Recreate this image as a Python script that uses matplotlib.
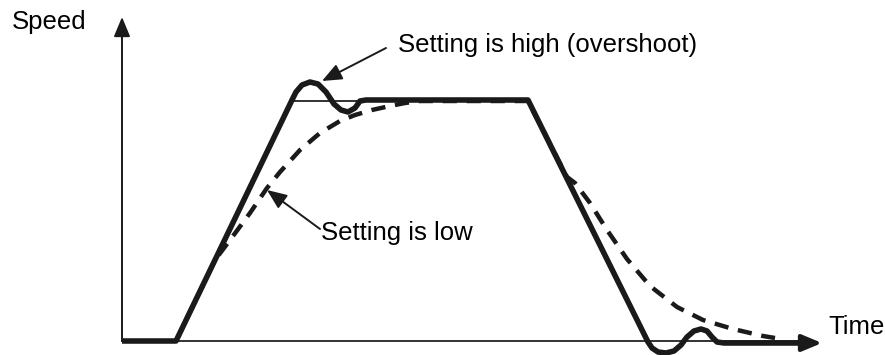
#
# Speed response sketch: gain setting high (overshoot) vs low
#

import matplotlib
matplotlib.use('Agg')
import matplotlib.pyplot as plt

plt.rcParams['font.family'] = ['Liberation Sans', 'DejaVu Sans']

# axes (pixel-like coordinates, y grows downward)
axisOrigin = [122, 341]
axisXEnd = 822
axisYEnd = 17

# speed with a high setting (solid) -- ramp up, overshoot, flat, ramp down, undershoot
highX = [122, 176, 292, 296, 302, 310, 318, 326, 334, 341, 348, 355, 360, 366, 528,
         648, 652, 658, 666, 674, 681, 687, 694, 701, 707, 712, 717, 724, 812]
highY = [341, 341, 100, 92, 85, 82, 84, 92, 104, 110, 112, 108, 101, 100, 100,
         342, 348, 352, 353, 351, 345, 337, 331, 329, 331, 337, 342, 343, 343]

# thin reference line of the target speed
refX = [292, 366]
refY = [101, 101]

# speed with a low setting (dashed)
lowX = [176, 215, 233, 250, 267, 280, 300, 320, 340, 355, 372, 390, 405, 420, 528,
        567, 575, 590, 607, 627, 650, 677, 703, 733, 763, 775]
lowY = [341, 260, 236, 213, 188, 172, 150, 133, 121, 115, 110, 106, 103, 101, 101,
        177, 183, 203, 230, 259, 286, 307, 320, 329, 336, 338]


### figure
fig = plt.figure(figsize=[8.85, 3.55], dpi=100, facecolor='w')
ax = fig.add_axes([0, 0, 1, 1])
ax.set_xlim(0, 885)
ax.set_ylim(355, 0)
ax.axis('off')

arrowHead = '-|>,head_length=1.2,head_width=0.5'

# axis lines with arrow heads
ax.plot([axisOrigin[0], axisXEnd - 10], [axisOrigin[1], axisOrigin[1]], '-', color='#333333', linewidth=1.4)
ax.annotate('', xy=(axisOrigin[0], axisYEnd), xytext=(axisOrigin[0], axisOrigin[1]),
            arrowprops=dict(arrowstyle=arrowHead, color='#1a1a1a',
                            linewidth=1.4, shrinkA=0, shrinkB=0))

# curves
ax.plot(refX, refY, '-', color='#222222', linewidth=1.3)
ax.plot(lowX, lowY, '--', color='#1a1a1a', linewidth=3.2, dashes=(3.2, 2.2))
ax.plot(highX, highY, '-', color='#1a1a1a', linewidth=4.0, solid_joinstyle='round',
        solid_capstyle='butt')
ax.annotate('', xy=(axisXEnd, 343), xytext=(805, 343),
            arrowprops=dict(arrowstyle=arrowHead, color='#1a1a1a',
                            linewidth=3.0, shrinkA=0, shrinkB=0))

# labels
ax.text(12, 22, 'Speed', fontsize=18.5, ha='left', va='center', color='k')
ax.text(828, 327, 'Time', fontsize=18.5, ha='left', va='center', color='k')

ax.text(398, 45, 'Setting is high (overshoot)', fontsize=18.5, ha='left', va='center', color='k')
ax.annotate('', xy=(322, 81), xytext=(386, 48),
            arrowprops=dict(arrowstyle=arrowHead, color='#1a1a1a',
                            linewidth=1.4, shrinkA=0, shrinkB=0))

ax.text(321, 233, 'Setting is low', fontsize=18.5, ha='left', va='center', color='k')
ax.annotate('', xy=(267, 190), xytext=(320, 229),
            arrowprops=dict(arrowstyle=arrowHead, color='#1a1a1a',
                            linewidth=1.4, shrinkA=0, shrinkB=0))

plt.savefig('out.png', dpi=100, facecolor='w')
